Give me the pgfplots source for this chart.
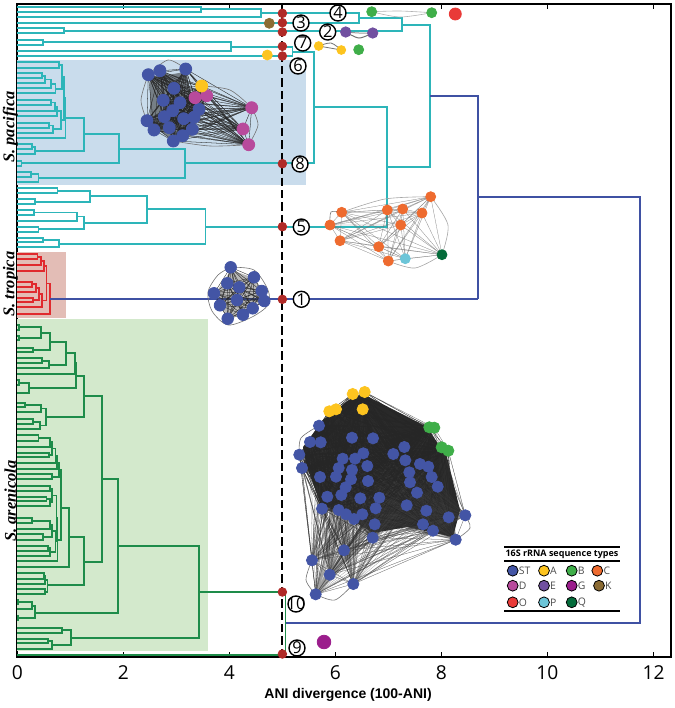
\documentclass[border=0pt]{standalone}
\usepackage{fontspec}
\usepackage{pgfplots}
\pgfplotsset{compat=1.18}
\setmainfont{Open Sans}
\newfontfamily\arialf{Liberation Sans}
\newfontfamily\timesf{Liberation Serif}

\definecolor{cST}{HTML}{4355A5}
\definecolor{cA}{HTML}{FDC41F}
\definecolor{cB}{HTML}{3FAE49}
\definecolor{cC}{HTML}{EE6B2F}
\definecolor{cD}{HTML}{B84A9C}
\definecolor{cE}{HTML}{7150A0}
\definecolor{cG}{HTML}{9B1D8C}
\definecolor{cK}{HTML}{8B6B33}
\definecolor{cO}{HTML}{E93A38}
\definecolor{cP}{HTML}{6CC5D8}
\definecolor{cQ}{HTML}{036B3A}
\definecolor{tealtree}{HTML}{2DB5B9}
\definecolor{greentree}{HTML}{1E8C4A}
\definecolor{redtree}{HTML}{E02A2E}
\definecolor{bluetree}{HTML}{3F51A3}
\definecolor{dotred}{HTML}{B02A27}

% network layouts, in pixels of the figure
\def\netEightBlue{(148.3,74.7),(160,70.7),(185.7,69),(174,88.3),(163.3,100.3),(180,102.7),(172.7,110.7),(164.3,116.7),(199,109.3),(194,117.3),(183.7,118.7),(147,120.7),(154,130),(169.3,127.7),(192.3,129.3),(182.7,135.7),(173.3,141)}
\def\netEightMag{(195,97.7),(206.7,95.7),(251.7,107.7),(243,129),(248.7,144.7)}
\def\netEightYel{(201.7,86)}
\edef\netEightAll{\netEightBlue,\netEightMag,\netEightYel}
\def\netOne{(230.7,267.3),(254,277.3),(227.3,283.3),(239.3,287.3),(261.7,291),(214,293.3),(264.3,301),(237,300),(220,305.3),(252.7,308.3),(227.7,318.7),(243,314.7)}
\def\netFiveOrange{(341.7,212.3),(330,225),(340,240.7),(387.3,210),(402.7,209),(430.7,196.7),(422,213),(400.7,225),(378.7,246.7),(388.3,261)}
\def\netFiveP{(405.3,258.7)}
\def\netFiveQ{(442,254.7)}
\edef\netFiveAll{\netFiveOrange,\netFiveP,\netFiveQ}
\def\bigBlue{(319,425.7),(310,442),(320.7,442.3),(352,437.7),(373,438.3),(299.3,454.7),(302,468),(320,477),(342.7,458.7),(355,458.7),(363.3,453.3),(338.7,468),(336,476.7),(352,470),(367.3,466),(351,479.3),(368,481),(345.7,487.3),(341.3,495),(327.3,496.7),(322,508.7),(338.7,510),(346,514.3),(354,519),(362.3,514.3),(360.3,498.3),(379.3,497.7),(375.7,508.3),(374.7,524.3),(372.7,537.7),(393.3,454),(404.3,447),(405.3,460.3),(420,464),(428.3,466.7),(409.3,472.3),(410,482.3),(431.7,477),(437.7,486.7),(417,492.7),(406.7,505.3),(426.3,510.7),(423,524.3),(433,530.7),(448.7,517.3),(465.3,515.3),(455.7,539.7),(344,550.3),(312,560.3),(329.7,574.7),(353.3,584),(315.7,594.3)}
\def\bigYel{(352.7,394),(364.7,392),(362.7,409.3),(329.3,411.3),(336,409.3)}
\def\bigGrn{(429.3,427.3),(434.3,427.7),(441.7,447.3),(448.3,450.7)}
\edef\bigAll{\bigBlue,\bigYel,\bigGrn}
\def\bigLow{(344,550.3),(312,560.3),(329.7,574.7),(353.3,584),(315.7,594.3),(455.7,539.7),(465.3,515.3),(448.7,517.3),(433,530.7),(372.7,537.7)}
\def\bigTop{(299.3,454.7),(302,468),(352.7,394),(364.7,392),(329.3,411.3),(429.3,427.3),(448.3,450.7),(319,425.7),(322,508.7)}

% one star of thin lines per source node
\newcommand{\drawfans}[3]{%
  \foreach \s in #1 {%
    \gdef\fanlist{}%
    \foreach \t in #2 {\xdef\fanlist{\fanlist\s\t}}%
    \edef\cmd{\noexpand\addplot[#3] coordinates {\fanlist};}\cmd
  }}
\newcommand{\drawnodes}[2]{%
  \gdef\ptlist{}%
  \foreach \p in #2 {\xdef\ptlist{\ptlist\p}}%
  \edef\cmd{\noexpand\addplot[#1] coordinates {\ptlist};}\cmd}

\pgfplotsset{
  tree/.style={no markers,line width=0.9pt,line join=miter,forget plot},
  fanA/.style={no markers,line width=0.14pt,line join=bevel,draw=black!85,draw opacity=0.7,forget plot},
  fanL/.style={no markers,line width=0.14pt,line join=bevel,draw=black!75,draw opacity=0.5,forget plot},
  fanB/.style={no markers,line width=0.14pt,line join=bevel,draw=black!55,draw opacity=0.5,forget plot},
  arc/.style={smooth,no markers,line width=0.3pt,draw=black!55,forget plot},
  nd/.style={only marks,mark=*,mark size=#1,forget plot},
  lg/.style={only marks,mark=*,mark size=2.7pt,mark options={draw=black!85,line width=0.35pt},
    nodes near coords,point meta=explicit symbolic,
    nodes near coords style={anchor=west,inner sep=0pt,xshift=2.9pt,yshift=0pt,text=black!70,
      font=\fontsize{5.2}{6}\selectfont},forget plot},
}

\begin{document}
\begin{tikzpicture}
\path[use as bounding box] (-8.65pt,-25.35pt) rectangle (328.85pt,328.65pt);
\begin{axis}[
  at={(0,0)},anchor=south west,
  scale only axis,width=326.85pt,height=326.65pt,
  xmin=0,xmax=12.33,ymin=4,ymax=657.3,y dir=reverse,
  clip=false,unbounded coords=jump,
  axis line style={line width=1pt},
  xtick={0,2,4,6,8,10,12},ytick=\empty,
  xtick pos=both,xtick align=inside,
  major tick length=2.5pt,
  tick style={black,line width=0.5pt},
  /pgf/number format/assume math mode=true,
  ticklabel style={font=\fontsize{9.6}{11}\selectfont},
  xticklabel style={yshift=-0.5pt},
  xlabel={\arialf\bfseries ANI divergence (100-ANI)},
  xlabel style={at={(axis description cs:0.506,-0.058)},anchor=center,
    font=\fontsize{7}{8}\selectfont},
]
% shaded groups
\addplot[fill={rgb,255:red,201;green,220;blue,236},draw=none,forget plot] coordinates {(0,60)(5.44,60)(5.44,185)(0,185)} -- cycle;
\addplot[fill={rgb,255:red,227;green,189;blue,182},draw=none,forget plot] coordinates {(0,252.3)(.91,252.3)(.91,317.7)(0,317.7)} -- cycle;
\addplot[fill={rgb,255:red,211;green,233;blue,204},draw=none,forget plot] coordinates {(0,319)(3.59,319)(3.59,650.7)(0,650.7)} -- cycle;

% S. pacifica tree and clades
\addplot[tree,tealtree] coordinates {
(0,6.7)(3.46,6.7)(3.46,12)(0,12)(nan,nan)
(3.46,9.3)(4.59,9.3)(4.59,17)(0,17)(nan,nan)
(4.59,13.3)(6.45,13.3)(6.45,22.7)(0,22.7)(nan,nan)
(0,28.3)(.88,28.3)(.88,33.3)(0,33.3)(nan,nan)
(6.45,18.3)(7.25,18.3)(7.25,31)(.88,31)(nan,nan)
(7.25,24.7)(7.79,24.7)(7.79,166.7)(6.98,166.7)(nan,nan)
(0,40)(.49,40)(.49,45)(0,45)(nan,nan)
(.49,42.3)(4.03,42.3)(4.03,50.7)(0,50.7)(nan,nan)
(4.03,46.7)(5.19,46.7)(5.19,56)(0,56)(nan,nan)
(5.19,51.7)(5.6,51.7)(5.6,163.3)(3.16,163.3)(nan,nan)
(5.6,107.3)(6.98,107.3)(6.98,226.7)(3.55,226.7)(nan,nan)
(0,61.7)(.79,61.7)(.79,68)(0,68)(nan,nan)
(0,73.3)(.46,73.3)(.46,78.3)(0,78.3)(nan,nan)
(.46,76)(.52,76)(.52,83.3)(0,83.3)(nan,nan)
(.52,79.5)(.64,79.5)(.64,88.3)(0,88.3)(nan,nan)
(.64,84)(.72,84)(.72,93.3)(0,93.3)(nan,nan)
(.79,65)(.84,65)(.84,89)(.72,89)(nan,nan)
(0,100)(.64,100)(.64,105)(0,105)(nan,nan)
(.64,102.5)(.71,102.5)(.71,110.7)(0,110.7)(nan,nan)
(.71,106.6)(.75,106.6)(.75,116)(0,116)(nan,nan)
(0,123.3)(.6,123.3)(.6,127.7)(0,127.7)(nan,nan)
(.6,125.5)(.67,125.5)(.67,132.7)(0,132.7)(nan,nan)
(.75,111)(.83,111)(.83,129)(.67,129)(nan,nan)
(.84,77)(.88,77)(.88,120)(.83,120)(nan,nan)
(.88,97.7)(.91,97.7)(.91,138.3)(0,138.3)(nan,nan)
(0,144.3)(.27,144.3)(.27,149)(0,149)(nan,nan)
(.27,146.7)(.33,146.7)(.33,154.3)(0,154.3)(nan,nan)
(.91,117.7)(1.26,117.7)(1.26,150.7)(.33,150.7)(nan,nan)
(0,160.7)(.08,160.7)(.08,165.7)(0,165.7)(nan,nan)
(1.26,134.3)(1.92,134.3)(1.92,163.3)(.08,163.3)(nan,nan)
(0,171.7)(.26,171.7)(.26,176.7)(0,176.7)(nan,nan)
(.26,174.3)(.4,174.3)(.4,182.3)(0,182.3)(nan,nan)
(1.92,149)(3.16,149)(3.16,178.3)(.4,178.3)(nan,nan)
(0,188.3)(.76,188.3)(.76,193.3)(0,193.3)(nan,nan)
(0,199)(.33,199)(.33,204)(0,204)(nan,nan)
(.76,191)(1.37,191)(1.37,201.7)(.33,201.7)(nan,nan)
(0,210)(.32,210)(.32,215)(0,215)(nan,nan)
(.32,212.5)(1.13,212.5)(1.13,220.7)(0,220.7)(nan,nan)
(0,226.7)(.4,226.7)(.4,231.7)(0,231.7)(nan,nan)
(1.13,216.5)(1.26,216.5)(1.26,229)(.4,229)(nan,nan)
(1.37,196)(2.45,196)(2.45,222.7)(1.26,222.7)(nan,nan)
(0,237.7)(.49,237.7)(.49,242.3)(0,242.3)(nan,nan)
(.49,240)(.78,240)(.78,246.7)(0,246.7)(nan,nan)
(2.45,209.3)(3.55,209.3)(3.55,243.7)(.78,243.7)(nan,nan)
};
% S. tropica
\addplot[tree,redtree] coordinates {
(0,254.3)(.38,254.3)(.38,259)(0,259)(nan,nan)
(.38,256.7)(.44,256.7)(.44,265)(0,265)(nan,nan)
(.44,261)(.5,261)(.5,271)(0,271)(nan,nan)
(0,281.7)(.28,281.7)(.28,286.7)(0,286.7)(nan,nan)
(.28,284)(.35,284)(.35,292)(0,292)(nan,nan)
(0,297.7)(.3,297.7)(.3,302)(0,302)(nan,nan)
(.35,288)(.41,288)(.41,300)(.3,300)(nan,nan)
(.41,294)(.47,294)(.47,307)(0,307)(nan,nan)
(.5,266)(.55,266)(.55,300.5)(.47,300.5)(nan,nan)
(.55,283.5)(.62,283.5)(.62,314.3)(0,314.3)(nan,nan)
};
% S. arenicola
\addplot[tree,greentree] coordinates {
(0,325)(.03,325)(.03,330)(0,330)(nan,nan)
(0,336)(.03,336)(.03,340)(0,340)(nan,nan)
(.03,327)(.44,327)(.44,338.3)(.03,338.3)(nan,nan)
(0,347.7)(.3,347.7)(.3,352)(0,352)(nan,nan)
(.44,333)(.62,333)(.62,350)(.3,350)(nan,nan)
(0,358.3)(.46,358.3)(.46,363.3)(0,363.3)(nan,nan)
(.46,361)(.6,361)(.6,368.3)(0,368.3)(nan,nan)
(.62,341.7)(.92,341.7)(.92,365)(.6,365)(nan,nan)
(.92,353)(1.09,353)(1.09,374.3)(0,374.3)(nan,nan)
(0,380)(.03,380)(.03,385)(0,385)(nan,nan)
(.03,382.7)(.22,382.7)(.22,393.3)(0,393.3)(nan,nan)
(1.09,363)(1.11,363)(1.11,388)(.22,388)(nan,nan)
(0,402.7)(.145,402.7)(.145,406.7)(0,406.7)(nan,nan)
(.145,404.7)(.45,404.7)(.45,412.3)(0,412.3)(nan,nan)
(0,419)(.3,419)(.3,424)(0,424)(nan,nan)
(.3,421.7)(.43,421.7)(.43,429.3)(0,429.3)(nan,nan)
(.45,408.5)(.54,408.5)(.54,425.5)(.43,425.5)(nan,nan)
(1.11,375.7)(1.26,375.7)(1.26,417)(.54,417)(nan,nan)
(1.26,396)(1.6,396)(1.6,561.7)(1.26,561.7)(nan,nan)
(0,435)(.4,435)(.4,441)(0,441)(nan,nan)
(.4,438)(.62,438)(.62,446.7)(0,446.7)(nan,nan)
(0,452.7)(.6,452.7)(.6,457)(0,457)(nan,nan)
(.62,442)(.66,442)(.66,455)(.6,455)(nan,nan)
(.66,448.5)(.72,448.5)(.72,463.3)(0,463.3)(nan,nan)
(.72,456)(.75,456)(.75,469)(0,469)(nan,nan)
(0,474.3)(.66,474.3)(.66,479)(0,479)(nan,nan)
(.75,462.5)(.79,462.5)(.79,476.7)(.66,476.7)(nan,nan)
(0,486)(.62,486)(.62,491)(0,491)(nan,nan)
(0,496.7)(.55,496.7)(.55,501)(0,501)(nan,nan)
(.55,499)(.62,499)(.62,506)(0,506)(nan,nan)
(.62,488.5)(.66,488.5)(.66,502.5)(.62,502.5)(nan,nan)
(0,518.3)(.27,518.3)(.27,523.3)(0,523.3)(nan,nan)
(.27,521)(.62,521)(.62,529.3)(0,529.3)(nan,nan)
(0,534.3)(.49,534.3)(.49,540)(0,540)(nan,nan)
(.62,525)(.65,525)(.65,537)(.49,537)(nan,nan)
(0,546)(.58,546)(.58,550.7)(0,550.7)(nan,nan)
(.58,548)(.62,548)(.62,555.7)(0,555.7)(nan,nan)
(.65,531)(.72,531)(.72,552)(.62,552)(nan,nan)
(.66,495.5)(.74,495.5)(.74,541.5)(.72,541.5)(nan,nan)
(.74,518)(.76,518)(.76,561)(0,561)(nan,nan)
(.79,469.5)(.82,469.5)(.82,540)(.76,540)(nan,nan)
(.82,508.3)(.97,508.3)(.97,566.7)(0,566.7)(nan,nan)
(0,573.3)(.5,573.3)(.5,579)(0,579)(nan,nan)
(.5,576)(.53,576)(.53,584.3)(0,584.3)(nan,nan)
(0,589.3)(.52,589.3)(.52,594)(0,594)(nan,nan)
(.53,580)(.57,580)(.57,591.7)(.52,591.7)(nan,nan)
(.97,537.3)(1.26,537.3)(1.26,585.3)(.57,585.3)(nan,nan)
(1.6,479.3)(1.9,479.3)(1.9,612.7)(.33,612.7)(nan,nan)
(0,600)(.02,600)(.02,604)(0,604)(nan,nan)
(.02,602.3)(.27,602.3)(.27,609.3)(0,609.3)(nan,nan)
(.27,606)(.33,606)(.33,618.3)(0,618.3)(nan,nan)
(0,616)(.02,616)(.02,620)(0,620)(nan,nan)
(0,627.7)(.85,627.7)(.85,632.7)(0,632.7)(nan,nan)
(0,639)(.58,639)(.58,643.3)(0,643.3)(nan,nan)
(.58,641)(.65,641)(.65,649.3)(0,649.3)(nan,nan)
(.85,630)(1.01,630)(1.01,645)(.65,645)(nan,nan)
(1.9,545.7)(3.43,545.7)(3.43,637.7)(1.01,637.7)(nan,nan)
(3.43,592)(5.06,592)(5.06,655)(0,655)(nan,nan)
};
% top level joins
\addplot[tree,bluetree] coordinates {
(.62,299.3)(8.69,299.3)(nan,nan)
(7.79,96)(8.69,96)(8.69,299.3)(nan,nan)
(8.69,197)(11.74,197)(11.74,623)(5.06,623)(nan,nan)
};
% threshold and cut points
\addplot[black,line width=1pt,dash pattern=on 4.2pt off 2pt,no markers,forget plot] coordinates {(5,4)(5,657.3)};
\addplot[only marks,mark=*,mark size=2.15pt,mark options={draw=dotred,fill=dotred},forget plot] coordinates {
(5,13.3)(5,22.7)(5,32)(5,46.3)(5,56)(5,163.7)(5,226.7)(5,299.3)(5,592)(5,654)};
\node[rotate=90,font=\timesf\bfseries\itshape\fontsize{8.2}{10}\selectfont] at (axis cs:-.13,127) {S. pacifica};
\node[rotate=90,font=\timesf\bfseries\itshape\fontsize{8.2}{10}\selectfont] at (axis cs:-.13,284) {S. tropica};
\node[rotate=90,font=\timesf\bfseries\itshape\fontsize{8.2}{10}\selectfont] at (axis cs:-.13,501) {S. arenicola};
\end{axis}

% networks and annotations, laid out in figure pixels
\begin{axis}[
  at={(0,0)},anchor=south west,
  scale only axis,width=326.85pt,height=326.65pt,
  xmin=17.3,xmax=671,ymin=4,ymax=657.3,y dir=reverse,
  clip=false,hide axis,
]
% dense cores
\addplot[fill=black!84,draw=none,forget plot] coordinates {(323,420)(353,397)(365,395)(427,427)(447,457)(460,510)(453,537)(407,527)(373,533)(347,517)(320,503)(307,467)(303,447)} -- cycle;
\addplot[fill=black!80,fill opacity=0.55,draw=none,forget plot] coordinates {(150,78)(185,72)(197,110)(192,130)(173,140)(150,125)} -- cycle;
\addplot[fill=black!80,fill opacity=0.35,draw=none,forget plot] coordinates {(231,270)(254,278)(262,300)(243,314)(228,318)(215,294)} -- cycle;
\drawfans{\bigLow}{\bigAll}{fanL}
\drawfans{\bigTop}{\bigAll}{fanA}
\drawfans{\netEightAll}{\netEightAll}{fanA}
\drawfans{\netOne}{\netOne}{fanA}
\drawfans{\netFiveAll}{\netFiveAll}{fanB}
% looping edges round the outside of the networks
\addplot[arc] coordinates {(148.3,74.7)(141,100)(147,120.7)};
\addplot[arc] coordinates {(148.3,74.7)(168,60)(185.7,69)};
\addplot[arc] coordinates {(251.7,107.7)(258,125)(248.7,144.7)};
\addplot[arc] coordinates {(201.7,86)(230,90)(251.7,107.7)};
\addplot[arc] coordinates {(173.3,141)(210,146)(248.7,144.7)};
\addplot[arc] coordinates {(230.7,267.3)(254,270)(268,290)(268,305)(252,317)(228,325)(212,311)(208,292)(218,275)(230.7,267.3)};
\addplot[arc] coordinates {(319,425.7)(301,438)(299.3,454.7)};
\addplot[arc] coordinates {(465.3,515.3)(470,528)(455.7,539.7)};
\addplot[arc] coordinates {(315.7,594.3)(335,600)(353.3,584)};
\addplot[arc] coordinates {(312,560.3)(306,580)(315.7,594.3)};
\addplot[arc] coordinates {(341.7,212.3)(331,212)(330,225)};
\addplot[arc,draw=black!35] coordinates {(341.7,212.3)(385,199)(430.7,196.7)};
\addplot[arc,draw=black!35] coordinates {(430.7,196.7)(448,225)(442,254.7)};
\addplot[arc,draw=black!35] coordinates {(388.3,261)(415,268)(442,254.7)};
% small groups
\addplot[smooth,no markers,line width=0.3pt,draw=black!30,forget plot] coordinates {(371.7,11.7)(400,11)(431.7,12.7)};
\addplot[smooth,no markers,line width=0.3pt,draw=black!30,forget plot] coordinates {(371.7,11.7)(400,17)(431.7,12.7)};
\addplot[smooth,no markers,line width=0.5pt,draw=black!55,forget plot] coordinates {(345.7,32)(359,38)(372.7,33)};
\addplot[smooth,no markers,line width=0.5pt,draw=black!40,forget plot] coordinates {(345.7,32)(359,33)(372.7,33)};
\addplot[smooth,no markers,line width=0.4pt,draw=black!55,forget plot] coordinates {(318.7,46)(331,43)(341.3,50)};
\addplot[smooth,no markers,line width=0.4pt,draw=black!55,forget plot] coordinates {(318.7,46)(330,48)(341.3,50)};

\drawnodes{nd=3pt,mark options={draw=cST,fill=cST}}{\netEightBlue}
\drawnodes{nd=3pt,mark options={draw=cD,fill=cD}}{\netEightMag}
\drawnodes{nd=3pt,mark options={draw=cA,fill=cA}}{\netEightYel}
\drawnodes{nd=2.9pt,mark options={draw=cST,fill=cST}}{\netOne}
\drawnodes{nd=2.5pt,mark options={draw=cC,fill=cC}}{\netFiveOrange}
\drawnodes{nd=2.5pt,mark options={draw=cP,fill=cP}}{\netFiveP}
\drawnodes{nd=2.5pt,mark options={draw=cQ,fill=cQ}}{\netFiveQ}
\drawnodes{nd=2.8pt,mark options={draw=cST,fill=cST}}{\bigBlue}
\drawnodes{nd=2.8pt,mark options={draw=cA,fill=cA}}{\bigYel}
\drawnodes{nd=2.8pt,mark options={draw=cB,fill=cB}}{\bigGrn}

\addplot[nd=2.5pt,mark options={draw=cB,fill=cB}] coordinates {(371.7,11.7)(431.7,12.7)(358.7,49.7)};
\addplot[nd=3pt,mark options={draw=cO,fill=cO}] coordinates {(455.3,14)};
\addplot[nd=2.5pt,mark options={draw=cK,fill=cK}] coordinates {(269.3,23.3)};
\addplot[nd=2.6pt,mark options={draw=cE,fill=cE}] coordinates {(345.7,32)(372.7,33)};
\addplot[nd=2.2pt,mark options={draw=cA,fill=cA}] coordinates {(318.7,46)(341.3,50)};
\addplot[nd=2.5pt,mark options={draw=cA,fill=cA}] coordinates {(267.3,55)};
\addplot[nd=3.4pt,mark options={draw=cG,fill=cG}] coordinates {(324,642)};

% numbered clusters
\addplot[only marks,mark=*,mark size=4pt,mark options={draw=black,fill=white,line width=0.7pt},
  nodes near coords,point meta=explicit symbolic,
  nodes near coords style={anchor=center,inner sep=0pt,font=\fontsize{8.2}{9}\selectfont},forget plot]
  coordinates {(338,13)[4] (301,23)[3] (327.7,32)[2] (302.7,43)[7] (298,66)[6] (300,164)[8] (301.3,227)[5] (301.3,299.3)[1] (296,604)[10] (297,648)[9]};

% sequence type key
\addplot[black,line width=0.8pt,no markers,forget plot] coordinates {(504,546.7)(620.3,546.7)};
\addplot[black,line width=0.8pt,no markers,forget plot] coordinates {(504,561)(620.3,561)};
\addplot[black,line width=0.8pt,no markers,forget plot] coordinates {(504,611)(620.3,611)};
\node[font=\fontsize{4.5}{6}\selectfont\bfseries] at (axis cs:562,554) {16S rRNA sequence types};
\addplot[lg,mark options={fill=cST}] coordinates {(512.7,570.7)[ST]};
\addplot[lg,mark options={fill=cA}] coordinates {(544,570.7)[A]};
\addplot[lg,mark options={fill=cB}] coordinates {(571.7,570.7)[B]};
\addplot[lg,mark options={fill=cC}] coordinates {(597.3,570.7)[C]};
\addplot[lg,mark options={fill=cD}] coordinates {(512.7,585.7)[D]};
\addplot[lg,mark options={fill=cE}] coordinates {(544,585.7)[E]};
\addplot[lg,mark options={fill=cG}] coordinates {(571.7,585.7)[G]};
\addplot[lg,mark options={fill=cK}] coordinates {(599,585.7)[K]};
\addplot[lg,mark options={fill=cO}] coordinates {(512.7,602.3)[O]};
\addplot[lg,mark options={fill=cP}] coordinates {(544,602.3)[P]};
\addplot[lg,mark options={fill=cQ}] coordinates {(571.7,602.3)[Q]};
\end{axis}
\end{tikzpicture}
\end{document}
